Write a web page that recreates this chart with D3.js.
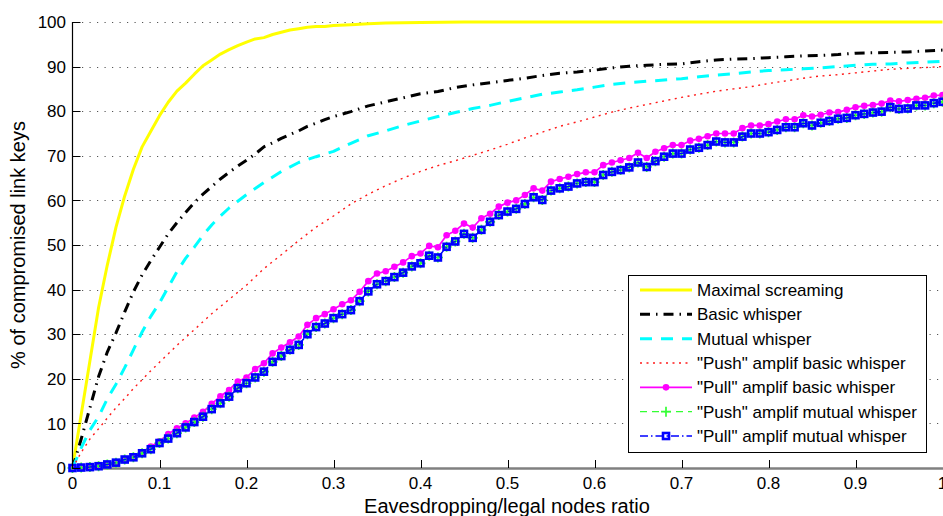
<!DOCTYPE html>
<html>
<head>
<meta charset="utf-8">
<script src="https://cdn.jsdelivr.net/npm/d3@7"></script>
<style>
  html, body { margin: 0; padding: 0; background: #fff; }
  svg { display: block; }
  text { font-family: "Liberation Sans", Arial, sans-serif; fill: #000; }
</style>
</head>
<body>
<svg id="chart" width="943" height="516"></svg>
<script>
// ---------- DATA ----------
const xTicks = [0, 0.1, 0.2, 0.3, 0.4, 0.5, 0.6, 0.7, 0.8, 0.9, 1];
const xTickLabels = ["0", "0.1", "0.2", "0.3", "0.4", "0.5", "0.6", "0.7", "0.8", "0.9", "1"];
const yTicks = [0, 10, 20, 30, 40, 50, 60, 70, 80, 90, 100];
const yTickLabels = ["0", "10", "20", "30", "40", "50", "60", "70", "80", "90", "100"];

const seriesNames = [
  "Maximal screaming",
  "Basic whisper",
  "Mutual whisper",
  "\"Push\" amplif basic whisper",
  "\"Pull\" amplif basic whisper",
  "\"Push\" amplif mutual whisper",
  "\"Pull\" amplif mutual whisper"
];

// smooth curves: own x samples
const maxScreamX = [0, 0.01, 0.02, 0.03, 0.04, 0.05, 0.06, 0.07, 0.08, 0.09, 0.10, 0.11, 0.12, 0.13, 0.14, 0.15, 0.16, 0.17, 0.18, 0.19, 0.20, 0.21, 0.22, 0.23, 0.24, 0.25, 0.26, 0.27, 0.28, 0.29, 0.30, 0.32, 0.34, 0.36, 0.40, 0.45, 0.5, 0.6, 0.7, 0.8, 0.9, 1.0];
const maxScreamY = [0, 12, 24, 36, 45.5, 54, 61, 67, 72, 75.5, 79, 82, 84.5, 86.3, 88.3, 90.2, 91.5, 92.8, 93.8, 94.7, 95.5, 96.2, 96.5, 97.2, 97.7, 98.2, 98.5, 98.8, 99.0, 99.0, 99.2, 99.4, 99.6, 99.8, 99.9, 100, 100, 100, 100, 100, 100, 100];

const basicX = [0, 0.01, 0.02, 0.03, 0.04, 0.05, 0.06, 0.07, 0.08, 0.09, 0.10, 0.11, 0.12, 0.13, 0.14, 0.15, 0.16, 0.17, 0.18, 0.19, 0.20, 0.21, 0.22, 0.23, 0.24, 0.25, 0.26, 0.27, 0.28, 0.29, 0.30, 0.32, 0.34, 0.36, 0.38, 0.40, 0.42, 0.44, 0.46, 0.48, 0.50, 0.52, 0.54, 0.56, 0.58, 0.60, 0.62, 0.64, 0.66, 0.68, 0.70, 0.72, 0.74, 0.76, 0.78, 0.80, 0.82, 0.84, 0.86, 0.88, 0.90, 0.92, 0.94, 0.96, 0.98, 1.00];
const basicY = [0, 6.5, 13.5, 20.5, 26, 30.3, 35, 39.5, 43.3, 46.5, 49.5, 52.5, 55, 57.3, 59.5, 61.4, 63.1, 64.8, 66.3, 67.7, 69, 70.4, 72, 72.9, 73.9, 74.8, 75.6, 76.6, 77.3, 78.1, 78.8, 79.9, 81.2, 82.1, 83.0, 83.9, 84.4, 85.3, 85.9, 86.4, 86.9, 87.4, 88.0, 88.5, 88.8, 89.2, 89.7, 90.1, 90.3, 90.5, 90.6, 91.1, 91.5, 91.7, 91.8, 92.0, 92.2, 92.4, 92.5, 92.7, 93.0, 93.1, 93.2, 93.3, 93.5, 93.7];

const mutualX = [0, 0.01, 0.02, 0.03, 0.04, 0.05, 0.06, 0.07, 0.08, 0.09, 0.10, 0.11, 0.12, 0.13, 0.14, 0.15, 0.16, 0.17, 0.18, 0.19, 0.20, 0.22, 0.24, 0.26, 0.28, 0.30, 0.32, 0.34, 0.36, 0.38, 0.40, 0.42, 0.44, 0.46, 0.48, 0.50, 0.52, 0.54, 0.56, 0.58, 0.60, 0.62, 0.64, 0.66, 0.68, 0.70, 0.72, 0.74, 0.76, 0.78, 0.80, 0.82, 0.84, 0.86, 0.88, 0.90, 0.92, 0.94, 0.96, 0.98, 1.00];
const mutualY = [0, 4.5, 8.5, 11.5, 15.5, 18.8, 22.5, 26.5, 30.5, 34, 37, 40.5, 44, 47, 49.5, 52.2, 54.5, 56.5, 58.3, 59.8, 61.3, 64, 66.5, 68.5, 69.8, 71, 72.8, 74.5, 75.6, 76.8, 77.8, 78.8, 79.7, 80.6, 81.3, 82.2, 83, 83.8, 84.3, 84.8, 85.4, 86, 86.4, 86.7, 87, 87.3, 87.7, 88.1, 88.4, 88.8, 89.1, 89.3, 89.5, 89.7, 90, 90.3, 90.5, 90.6, 90.8, 91, 91.2];

const pushBasicX = [0, 0.01, 0.02, 0.03, 0.04, 0.05, 0.06, 0.07, 0.08, 0.09, 0.10, 0.12, 0.14, 0.16, 0.18, 0.20, 0.22, 0.24, 0.26, 0.28, 0.30, 0.32, 0.34, 0.36, 0.38, 0.40, 0.42, 0.44, 0.46, 0.48, 0.50, 0.52, 0.54, 0.56, 0.58, 0.60, 0.62, 0.64, 0.66, 0.68, 0.70, 0.72, 0.74, 0.76, 0.78, 0.80, 0.82, 0.84, 0.86, 0.88, 0.90, 0.92, 0.94, 0.96, 0.98, 1.00];
const pushBasicY = [0, 3.5, 6.5, 8.8, 11.2, 13.5, 15.6, 17.8, 19.8, 21.8, 23.7, 27.5, 31.0, 34.6, 37.8, 41.0, 44.7, 47.8, 51.0, 54.0, 56.5, 59.2, 61.4, 63.3, 65.0, 66.5, 67.8, 68.9, 70.1, 71.3, 72.6, 74.0, 75.3, 76.6, 77.6, 78.7, 79.8, 80.7, 81.5, 82.3, 83.1, 83.8, 84.5, 85.0, 85.5, 86.2, 86.8, 87.4, 87.9, 88.2, 88.6, 89.0, 89.4, 89.6, 89.8, 90.0];

// marker series: sampled every 0.01 of the ratio
const ratio = d3.range(101).map(i => i / 100);
const pullBasicY = [0, 0.1, 0.3, 0.5, 0.9, 1.3, 2.0, 2.6, 3.5, 4.8,
  6.0, 7.6, 8.9, 10.0, 11.3, 12.6, 14.4, 16.1, 17.5, 19.4,
  20.3, 22.2, 23.5, 25.7, 27.0, 28.2, 29.5, 32.1, 33.6, 34.5,
  35.6, 36.7, 37.6, 39.5, 41.9, 43.6, 44.1, 45.1, 46.1, 47.5,
  48.1, 49.8, 49.5, 52.2, 53.2, 54.8, 53.9, 56.0, 57.0, 58.6,
  59.5, 60.0, 61.2, 62.7, 62.2, 64.2, 64.8, 65.3, 65.9, 66.3,
  66.3, 67.9, 68.5, 69.0, 69.5, 70.7, 69.5, 70.9, 71.7, 72.4,
  72.4, 73.4, 73.8, 74.4, 75.0, 75.0, 75.0, 76.2, 76.8, 76.8,
  77.1, 77.7, 78.2, 78.2, 79.1, 78.8, 79.2, 79.7, 79.8, 80.3,
  80.9, 81.2, 81.4, 81.7, 82.4, 82.2, 82.5, 82.8, 83.0, 83.5,
  83.6];
const pushMutualY = [0, 0.1, 0.2, 0.4, 0.8, 1.2, 1.9, 2.4, 3.3, 4.2,
  5.6, 6.6, 7.8, 9.1, 10.3, 11.5, 13.2, 14.5, 16.0, 17.9,
  19.0, 20.3, 21.6, 23.8, 25.1, 26.5, 27.6, 30.0, 31.6, 32.4,
  33.6, 34.5, 35.4, 37.4, 39.6, 41.2, 41.9, 42.8, 43.8, 45.2,
  45.9, 47.6, 47.2, 49.6, 50.8, 52.5, 51.6, 53.4, 55.2, 56.7,
  57.5, 58.1, 59.2, 60.7, 60.1, 62.2, 62.7, 63.1, 63.8, 64.1,
  64.1, 65.7, 66.4, 66.8, 67.4, 68.5, 67.5, 68.8, 69.8, 70.5,
  70.5, 71.4, 71.8, 72.4, 73.2, 73.0, 73.0, 74.3, 75.0, 75.0,
  75.3, 75.8, 76.4, 76.4, 77.3, 76.8, 77.4, 77.8, 78.3, 78.5,
  79.1, 79.4, 79.7, 79.9, 80.9, 80.5, 80.6, 81.3, 81.3, 81.8,
  82.1];
const pullMutualY = [0, 0.1, 0.2, 0.4, 0.8, 1.2, 1.9, 2.4, 3.3, 4.2,
  5.6, 6.6, 7.8, 9.1, 10.3, 11.5, 13.2, 14.5, 16.0, 17.9,
  19.0, 20.3, 21.6, 23.8, 25.1, 26.5, 27.6, 30.0, 31.6, 32.4,
  33.6, 34.5, 35.4, 37.4, 39.6, 41.2, 41.9, 42.8, 43.8, 45.2,
  45.9, 47.6, 47.2, 49.6, 50.8, 52.5, 51.6, 53.4, 55.2, 56.7,
  57.5, 58.1, 59.2, 60.7, 60.1, 62.2, 62.7, 63.1, 63.8, 64.1,
  64.1, 65.7, 66.4, 66.8, 67.4, 68.5, 67.5, 68.8, 69.8, 70.5,
  70.5, 71.4, 71.8, 72.4, 73.2, 73.0, 73.0, 74.3, 75.0, 75.0,
  75.3, 75.8, 76.4, 76.4, 77.3, 76.8, 77.4, 77.8, 78.3, 78.5,
  79.1, 79.4, 79.7, 79.9, 80.9, 80.5, 80.6, 81.3, 81.3, 81.8,
  82.1];

// ---------- CHART ----------
const svg = d3.select("#chart");
const x = d3.scaleLinear().domain([0, 1]).range([72.5, 942.5]);
const y = d3.scaleLinear().domain([0, 100]).range([468, 22]);

const zip = (xs, ys) => xs.map((v, i) => [v, ys[i]]);
const line = d3.line().x(d => x(d[0])).y(d => y(d[1]));

// grid (horizontal dotted)
svg.append("g").selectAll("line").data(yTicks.filter(v => v > 0)).join("line")
  .attr("x1", x(0) + 2).attr("x2", x(1))
  .attr("y1", d => Math.round(y(d)) + 0.5).attr("y2", d => Math.round(y(d)) + 0.5)
  .attr("stroke", "#555").attr("stroke-width", 1)
  .attr("stroke-dasharray", "1.2,6.3");

// x axis line (grey)
svg.append("line").attr("x1", x(0)).attr("x2", x(1) + 1)
  .attr("y1", y(0) + 0.5).attr("y2", y(0) + 0.5)
  .attr("stroke", "#808080").attr("stroke-width", 2.5);

// series styles
const S = [
  { data: zip(maxScreamX, maxScreamY), color: "#ffff00", w: 3, dash: null },
  { data: zip(basicX, basicY), color: "#000000", w: 3, dash: "10,6,1.5,6" },
  { data: zip(mutualX, mutualY), color: "#00ffff", w: 3, dash: "12,9" },
  { data: zip(pushBasicX, pushBasicY), color: "#ff1a1a", w: 1.4, dash: "2,4.5" },
  { data: zip(ratio, pullBasicY), color: "#ff00ff", w: 1.7, dash: null, marker: "dot" },
  { data: zip(ratio, pushMutualY), color: "#33ff33", w: 1.3, dash: "7,5", marker: "plus" },
  { data: zip(ratio, pullMutualY), color: "#0000ff", w: 1.5, dash: "8,3,1.5,3", marker: "square" }
];

function drawMarker(g, kind, color, cx, cy) {
  if (kind === "dot") {
    g.append("circle").attr("cx", cx).attr("cy", cy).attr("r", 3.3).attr("fill", color);
  } else if (kind === "plus") {
    const s = 5;
    g.append("path").attr("d", `M${cx - s},${cy}H${cx + s}M${cx},${cy - s}V${cy + s}`)
      .attr("stroke", color).attr("stroke-width", 1.7).attr("fill", "none");
  } else if (kind === "square") {
    g.append("rect").attr("x", cx - 3).attr("y", cy - 3).attr("width", 6).attr("height", 6)
      .attr("fill", "none").attr("stroke", color).attr("stroke-width", 2.6);
  }
}

S.forEach(s => {
  const g = svg.append("g");
  const p = g.append("path").datum(s.data).attr("d", line)
    .attr("fill", "none").attr("stroke", s.color).attr("stroke-width", s.w)
    .attr("stroke-linejoin", "round");
  if (s.dash) p.attr("stroke-dasharray", s.dash);
  if (s.marker) {
    s.data.forEach(d => drawMarker(g, s.marker, s.color, x(d[0]), y(d[1])));
  }
});

// y axis
svg.append("line").attr("x1", x(0)).attr("x2", x(0)).attr("y1", y(100)).attr("y2", y(0) + 1)
  .attr("stroke", "#000").attr("stroke-width", 1.2);
svg.append("g").selectAll("line").data(yTicks).join("line")
  .attr("x1", x(0)).attr("x2", x(0) + 8)
  .attr("y1", d => Math.round(y(d)) + 0.5).attr("y2", d => Math.round(y(d)) + 0.5)
  .attr("stroke", "#000").attr("stroke-width", 1);
svg.append("g").selectAll("text").data(yTicks).join("text")
  .attr("x", 66).attr("y", d => y(d)).attr("dy", "0.36em")
  .attr("text-anchor", "end").attr("font-size", 17)
  .text((d, i) => yTickLabels[i]);

// x ticks
svg.append("g").selectAll("line").data(xTicks.slice(1)).join("line")
  .attr("x1", d => Math.round(x(d)) + 0.5).attr("x2", d => Math.round(x(d)) + 0.5)
  .attr("y1", y(0)).attr("y2", y(0) - 8)
  .attr("stroke", "#000").attr("stroke-width", 1);
svg.append("g").selectAll("text").data(xTicks).join("text")
  .attr("x", d => x(d)).attr("y", 489)
  .attr("text-anchor", "middle").attr("font-size", 17)
  .text((d, i) => xTickLabels[i]);

// axis titles
svg.append("text").attr("x", 507).attr("y", 513).attr("text-anchor", "middle")
  .attr("font-size", 20).text("Eavesdropping/legal nodes ratio");
svg.append("text").attr("transform", "translate(25,245) rotate(-90)")
  .attr("text-anchor", "middle").attr("font-size", 20).text("% of compromised link keys");

// legend
const lg = svg.append("g");
lg.append("rect").attr("x", 628.5).attr("y", 275.5).attr("width", 298).attr("height", 177)
  .attr("fill", "#fff").attr("stroke", "#000").attr("stroke-width", 1);
const rowY = d3.scaleLinear().domain([0, 6]).range([290, 436]);
S.forEach((s, i) => {
  const yy = rowY(i);
  const g = lg.append("g");
  const p = g.append("line").attr("x1", 640).attr("x2", 692).attr("y1", yy).attr("y2", yy)
    .attr("stroke", s.color).attr("stroke-width", s.w);
  if (s.dash) p.attr("stroke-dasharray", s.dash);
  if (s.marker) drawMarker(g, s.marker, s.color, 666, yy);
  g.append("text").attr("x", 697).attr("y", yy).attr("dy", "0.36em")
    .attr("font-size", 17).text(seriesNames[i]);
});
</script>
</body>
</html>
